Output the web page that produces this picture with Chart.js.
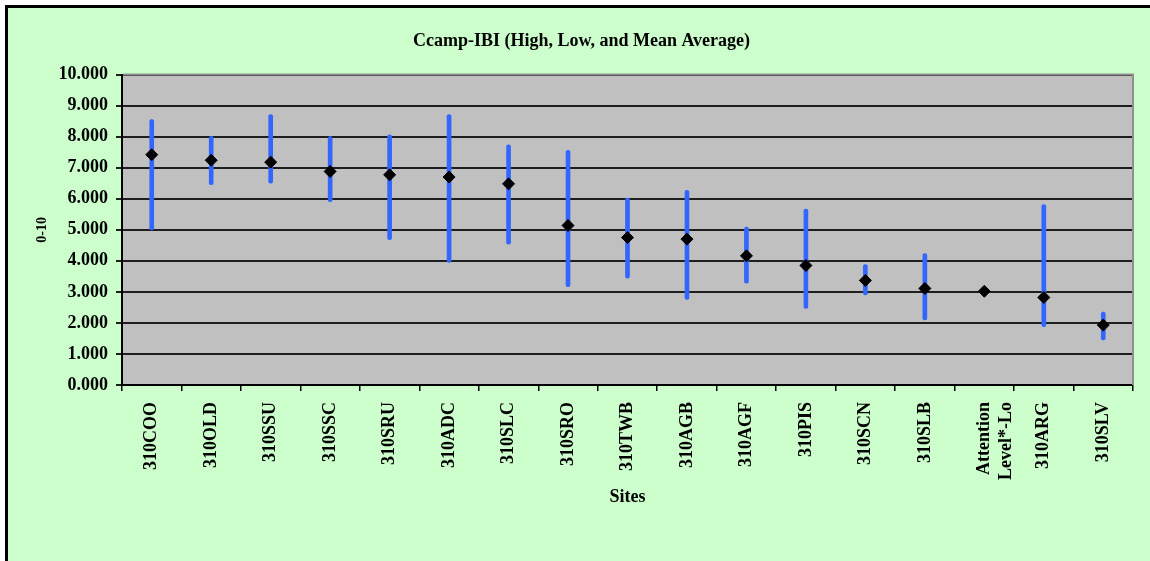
<!DOCTYPE html>
<html>
<head>
<meta charset="utf-8">
<script src="https://cdn.jsdelivr.net/npm/chart.js@4/dist/chart.umd.min.js"></script>
<style>
  body { margin: 0; background: #fff; width: 1150px; height: 561px; overflow: hidden; }
  #frame { position: absolute; left: 5px; top: 5px; width: 1142px; height: 553px;
           background: #CCFFCC; border-left: 3px solid #000; border-top: 3px solid #000; }
  #chart { position: absolute; left: 0; top: 0; }
</style>
</head>
<body>
<div id="frame"></div>
<canvas id="chart" width="1150" height="561"></canvas>
<script>
'use strict';

// Sites along the x axis
const sites = ['310COO', '310OLD', '310SSU', '310SSC', '310SRU', '310ADC', '310SLC', '310SRO',
    '310TWB', '310AGB', '310AGF', '310PIS', '310SCN', '310SLB', ['Attention', 'Level*-Lo'],
    '310ARG', '310SLV'];
// High / low / mean IBI score per site
const highVals = [8.55, 8.01, 8.71, 8.00, 8.06, 8.71, 7.74, 7.56, 6.02, 6.27, 5.09, 5.67, 3.88, 4.23, null, 5.81, 2.35];
const lowVals  = [5.00, 6.45, 6.50, 5.91, 4.68, 3.95, 4.54, 3.17, 3.44, 2.76, 3.28, 2.47, 2.90, 2.10, null, 1.88, 1.45];
const meanVals = [7.42, 7.24, 7.18, 6.88, 6.77, 6.70, 6.48, 5.14, 4.75, 4.70, 4.16, 3.85, 3.37, 3.11, 3.02, 2.82, 1.93];
const yTicks = [0, 1, 2, 3, 4, 5, 6, 7, 8, 9, 10];

const serif = "'Liberation Serif', 'Times New Roman', serif";

const rangeData = sites.map((s, i) => highVals[i] == null ? null : [lowVals[i], highVals[i]]);

// gray plot area + gray top/right frame
const plotBackground = {
    id: 'plotBackground',
    beforeDraw(chart) {
        const { ctx, chartArea: a } = chart;
        ctx.save();
        ctx.fillStyle = '#C0C0C0';
        ctx.fillRect(a.left, a.top, a.right - a.left, a.bottom - a.top);
        ctx.restore();
    },
    beforeDatasetsDraw(chart) {
        const { ctx, chartArea: a } = chart;
        ctx.save();
        ctx.strokeStyle = '#8f8f8f';
        ctx.lineWidth = 2;
        ctx.beginPath();
        ctx.moveTo(a.left + 1, a.top);
        ctx.lineTo(a.right, a.top);
        ctx.lineTo(a.right, a.bottom);
        ctx.stroke();
        ctx.restore();
    }
};

const ctx = document.getElementById('chart').getContext('2d');
const ibiChart = new Chart(ctx, {
    type: 'bar',
    data: {
        labels: sites,
        datasets: [{
            type: 'line',
            label: 'Mean',
            data: meanVals,
            showLine: false,
            pointStyle: 'rectRot',
            pointRadius: 6,
            pointBackgroundColor: '#000',
            pointBorderColor: '#000',
            pointBorderWidth: 1,
            order: 0
        }, {
            label: 'High-Low',
            data: rangeData,
            backgroundColor: 'rgb(51, 102, 255)',
            borderWidth: 0,
            barThickness: 4,
            borderRadius: 2,
            borderSkipped: false,
            order: 1
        }]
    },
    options: {
        responsive: false,
        animation: false,
        layout: { padding: { top: 23, right: 17, bottom: 53, left: 30 } },
        plugins: {
            legend: { display: false },
            tooltip: { enabled: false },
            title: {
                display: true,
                text: 'Ccamp-IBI (High, Low, and Mean Average)',
                color: '#000',
                font: { family: serif, size: 18, weight: 'bold' },
                padding: { top: 8, bottom: 22 }
            }
        },
        scales: {
            x: {
                offset: true,
                grid: {
                    offset: true,
                    drawOnChartArea: false,
                    color: '#000',
                    lineWidth: 1.5,
                    tickLength: 6
                },
                border: { display: true, color: '#000', width: 2 },
                ticks: {
                    autoSkip: false,
                    maxRotation: 90,
                    minRotation: 90,
                    padding: 11,
                    color: '#000',
                    font: { family: serif, size: 18, weight: 'bold' }
                },
                title: {
                    display: true,
                    text: 'Sites',
                    color: '#000',
                    font: { family: serif, size: 18, weight: 'bold' },
                    padding: { top: 4, bottom: 0 }
                },
                afterFit(scale) { scale.height = 123; }
            },
            y: {
                min: 0,
                max: 10,
                afterBuildTicks(scale) { scale.ticks = yTicks.map(v => ({ value: v })); },
                grid: {
                    color: '#1e1e1e',
                    lineWidth: 2,
                    tickLength: 6
                },
                border: { display: true, color: '#000', width: 2 },
                ticks: {
                    padding: 8,
                    color: '#000',
                    font: { family: serif, size: 18, weight: 'bold' },
                    callback: v => v.toFixed(3)
                },
                title: {
                    display: true,
                    text: '0-10',
                    color: '#000',
                    font: { family: serif, size: 14, weight: 'bold' },
                    padding: { top: 4, bottom: 0 }
                },
                afterFit(scale) { scale.width = 92; }
            }
        }
    },
    plugins: [plotBackground]
});
</script>
</body>
</html>
